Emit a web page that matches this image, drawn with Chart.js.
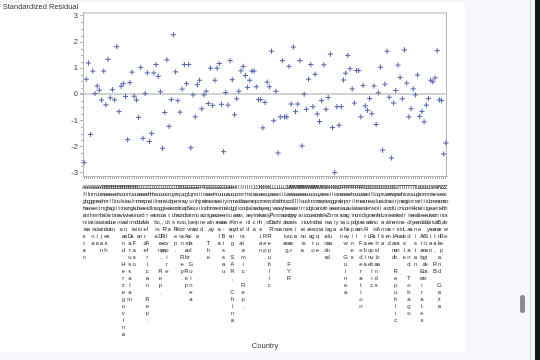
<!DOCTYPE html>
<html>
<head>
<meta charset="utf-8">
<title>Standardized Residual by Country</title>
<script src="https://cdn.jsdelivr.net/npm/chart.js@4"></script>
<style>
  html, body { margin: 0; padding: 0; }
  body { width: 540px; height: 360px; background: #f6f7fb; position: relative; overflow: hidden; }
  #panel { position: absolute; left: 0; top: 3px; width: 465px; height: 349px; background: #fff; }
  #residualChart { position: absolute; left: 0; top: 0; }
  #edgeLine { position: absolute; left: 530px; top: 0; width: 1px; height: 360px; background: #d6d7dc; }
  #edgeDark { position: absolute; left: 535px; top: 0; width: 5px; height: 360px; background: #151a18; }
  #thumb { position: absolute; left: 520px; top: 295px; width: 5px; height: 18px; border-radius: 3px; background: #8c8c8c; }
</style>
</head>
<body>
<div id="panel"></div>
<canvas id="residualChart" width="465" height="352"></canvas>
<div id="edgeLine"></div>
<div id="edgeDark"></div>
<div id="thumb"></div>
<script>
// categories (alphabetical)
const countries = [
  "Afghanistan", "Albania", "Algeria", "Angola", "Argentina", "Armenia", "Australia", "Austria",
  "Azerbaijan", "Bahrain", "Bangladesh", "Barbados", "Belarus", "Belgium", "Belize", "Benin",
  "Bhutan", "Bolivia", "Bosnia and Herzegovina", "Botswana", "Brazil", "Brunei Darussalam",
  "Bulgaria", "Burkina Faso", "Burundi", "Cambodia", "Cameroon", "Canada", "Cape Verde",
  "Central African Rep.", "Chad", "Chile", "China", "Colombia", "Comoros", "Congo, Dem. Rep.",
  "Congo, Rep.", "Costa Rica", "Cote d'Ivoire", "Croatia", "Cuba", "Cyprus", "Czech Rep.",
  "Denmark", "Djibouti", "Dominican Rep.", "Ecuador", "Egypt, Arab Rep.", "El Salvador",
  "Equatorial Guinea", "Eritrea", "Estonia", "Ethiopia", "Fiji", "Finland", "France", "Gabon",
  "Gambia, The", "Georgia", "Germany", "Ghana", "Greece", "Guatemala", "Guinea", "Guinea-Bissau",
  "Guyana", "Haiti", "Honduras", "Hong Kong SAR, China", "Hungary", "Iceland", "India",
  "Indonesia", "Iran, Islamic Rep.", "Iraq", "Ireland", "Israel", "Italy", "Jamaica", "Japan",
  "Jordan", "Kazakhstan", "Kenya", "Korea, Rep.", "Kuwait", "Kyrgyz Republic", "Lao PDR",
  "Latvia", "Lebanon", "Lesotho", "Liberia", "Libya", "Lithuania", "Luxembourg", "Macedonia, FYR",
  "Madagascar", "Malawi", "Malaysia", "Mali", "Malta", "Mauritania", "Mauritius", "Mexico",
  "Moldova", "Mongolia", "Montenegro", "Morocco", "Mozambique", "Myanmar", "Namibia", "Nepal",
  "Netherlands", "New Zealand", "Nicaragua", "Niger", "Nigeria", "Norway", "Oman", "Pakistan",
  "Panama", "Papua New Guinea", "Paraguay", "Peru", "Philippines", "Poland", "Portugal",
  "Romania", "Russian Federation", "Rwanda", "Saudi Arabia", "Senegal", "Sierra Leone",
  "Slovak Republic", "Slovenia", "Solomon Islands", "South Africa", "Spain", "Sri Lanka",
  "Sudan", "Suriname", "Swaziland", "Sweden", "Switzerland", "Syrian Arab Republic",
  "Tajikistan", "Tanzania", "Thailand", "Timor-Leste", "Togo", "Trinidad and Tobago", "Tunisia",
  "Turkey", "Turkmenistan", "Uganda", "Ukraine", "United Arab Emirates", "United Kingdom",
  "United States", "Uruguay", "Uzbekistan", "Vanuatu", "Venezuela, RB", "Vietnam",
  "West Bank and Gaza", "Yemen, Rep.", "Zambia", "Zimbabwe"
];

// standardized residual per country
const residuals = [
  -2.61, 0.58, 1.20, -1.53, 0.89, 0.03, 0.32, 0.16, -0.22, 0.89,
  -0.40, 1.34, -0.13, 0.18, -0.21, 1.82, -0.66, 0.31, 0.41, -0.08,
  -1.73, 0.45, 0.85, -0.07, -0.22, -0.88, 1.03, -1.68, 0.03, 0.82,
  -1.80, -1.49, 0.82, 1.14, 0.69, 0.10, -2.06, -0.69, 1.32, -1.22,
  -0.20, 2.28, 0.86, -0.24, -0.68, 0.20, 1.14, 0.41, 1.14, -2.04,
  -0.02, -0.86, 0.37, 0.54, -0.55, -0.02, 0.12, -0.35, 1.00, -0.42,
  0.54, 1.00, 1.18, -0.38, -2.19, 0.07, -0.41, 1.29, 0.56, -0.78,
  -0.17, 0.12, 0.90, 1.07, 0.72, 0.27, 0.54, 0.89, 0.89, 0.29,
  -0.20, -0.20, -1.28, -0.31, 0.47, 0.29, 1.65, -1.01, 0.12, -2.24,
  -0.86, 1.29, -0.86, -0.86, 1.07, -0.37, 1.81, -0.66, -0.37, 1.29,
  -1.97, 0.01, -0.57, 0.58, 1.14, -0.47, 0.77, -0.75, -1.04, -0.24,
  1.13, -0.57, -0.12, 1.54, -1.27, -2.99, -0.47, -1.18, -0.47, 0.55,
  0.81, 1.49, 0.98, 0.21, -0.33, 0.91, 0.91, -0.86, 0.34, -0.44,
  -0.61, -0.16, -0.74, 0.32, -1.15, 0.06, 1.04, -2.13, 0.39, 1.65,
  -0.11, -2.43, -0.33, 0.15, 1.12, 0.65, -0.17, 1.70, 0.43, -0.86,
  -0.55, 0.21, -0.02, 0.74, -0.84, -0.65, -1.05, -0.41, -0.16, 0.54,
  0.48, 0.63, 1.67, -0.21, -0.24, -2.28, -1.86
];

// y axis ticks
const yTicks = [-3, -2, -1, 0, 1, 2, 3];
const yMinor = 0.25;

const FONT = 'Arial, "Liberation Sans", sans-serif';
const TEXT = '#333333';
const AXIS = '#b4b4b4';

// every letter of a country on its own line, like the stacked SAS labels
const stackedLabels = countries.map(name => name.split(''));

// box round the plot + small minor ticks on the y axis
const framePlugin = {
  id: 'frame',
  beforeDatasetsDraw(chart) {
    const { ctx, chartArea: a, scales } = chart;
    ctx.save();
    ctx.strokeStyle = AXIS;
    ctx.lineWidth = 1;
    ctx.strokeRect(a.left + 0.5, a.top + 0.5, a.right - a.left - 1, a.bottom - a.top);
    // minor ticks
    const y = scales.y;
    for (let v = yTicks[0]; v <= yTicks[yTicks.length - 1]; v += yMinor) {
      if (Number.isInteger(v)) continue;
      const py = Math.round(y.getPixelForValue(v)) + 0.5;
      ctx.beginPath();
      ctx.moveTo(a.left - 2, py);
      ctx.lineTo(a.left, py);
      ctx.stroke();
    }
    ctx.restore();
  }
};

const ctx = document.getElementById('residualChart').getContext('2d');
const residualChart = new Chart(ctx, {
  type: 'line',
  data: {
    labels: stackedLabels,
    datasets: [{
      label: 'Standardized Residual',
      data: residuals,
      showLine: false,
      pointStyle: 'cross',
      pointRadius: 2.6,
      pointHoverRadius: 2.6,
      pointBorderWidth: 1,
      borderColor: '#5064ad',
      backgroundColor: '#5064ad'
    }]
  },
  options: {
    responsive: false,
    devicePixelRatio: 1,
    animation: false,
    events: [],
    layout: { padding: { left: 2.7, right: 18, top: 0, bottom: 0 } },
    plugins: {
      legend: { display: false },
      tooltip: { enabled: false },
      title: {
        display: true,
        text: 'Standardized Residual',
        align: 'start',
        color: TEXT,
        font: { family: FONT, size: 7.5, weight: 'normal' },
        padding: { top: 2.5, bottom: 1 }
      }
    },
    scales: {
      x: {
        type: 'category',
        offset: true,
        border: { display: true, color: AXIS },
        grid: {
          display: true,
          drawOnChartArea: false,
          tickLength: 3,
          tickColor: '#a8a8a8',
          offset: false
        },
        ticks: {
          autoSkip: false,
          maxRotation: 0,
          minRotation: 0,
          padding: 4.5,
          color: TEXT,
          font: { family: FONT, size: 6, lineHeight: '7px' }
        },
        title: {
          display: true,
          text: 'Country',
          color: TEXT,
          font: { family: FONT, size: 7.5 },
          padding: { top: 6, bottom: 2 }
        }
      },
      y: {
        min: -3.12,
        max: 3.13,
        afterFit(axis) { axis.width = 80.3; },
        border: { display: true, color: AXIS },
        grid: {
          drawOnChartArea: true,
          tickLength: 3,
          tickColor: AXIS,
          color: c => (c.tick && c.tick.value === 0 ? '#d2d2d2' : 'rgba(0,0,0,0)'),
          lineWidth: c => (c.tick && c.tick.value === 0 ? 2 : 1)
        },
        ticks: {
          stepSize: 1,
          includeBounds: false,
          padding: 2,
          color: TEXT,
          font: { family: FONT, size: 7.5 },
          callback: v => (yTicks.includes(v) ? v : '')
        }
      }
    }
  },
  plugins: [framePlugin]
});
</script>
</body>
</html>
